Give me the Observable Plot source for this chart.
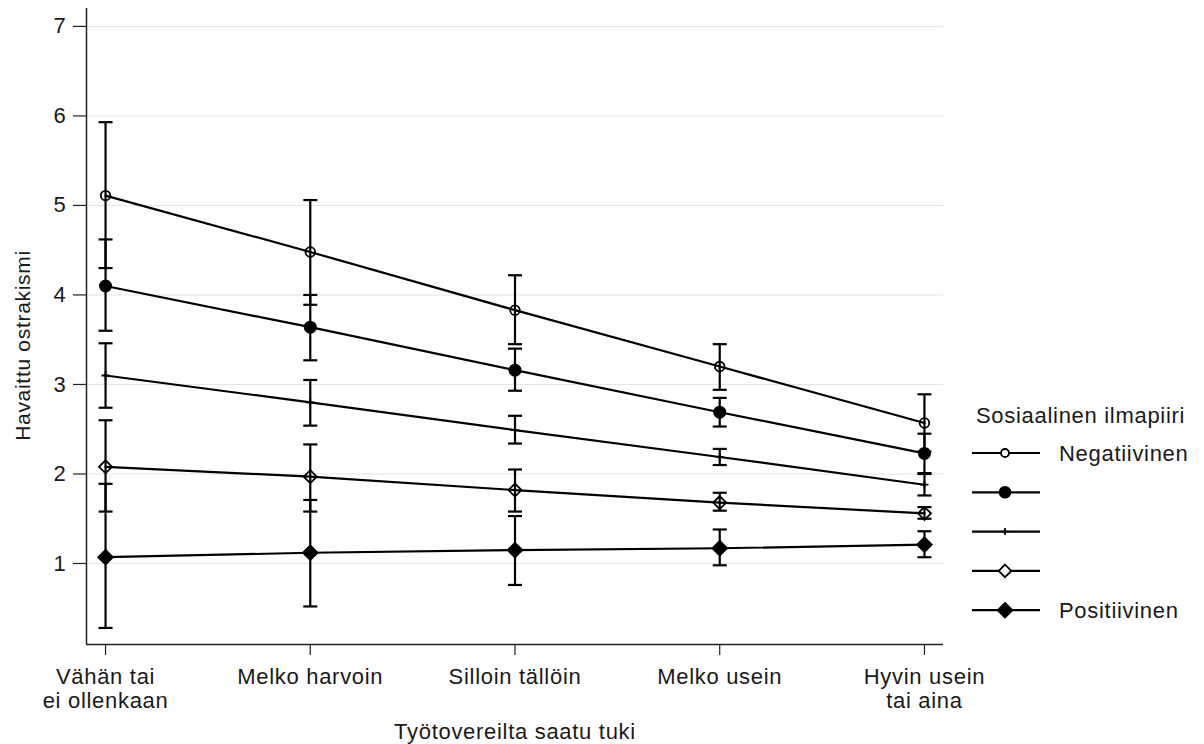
<!DOCTYPE html>
<html><head><meta charset="utf-8">
<script src="https://cdn.jsdelivr.net/npm/d3@7"></script>
<script src="https://cdn.jsdelivr.net/npm/@observablehq/plot@0.6"></script>
<style>
body{margin:0;background:#fff;}
#wrap{position:relative;width:1204px;height:744px;font-family:"Liberation Sans",Arial,sans-serif;color:#1a1a1a;}
#wrap svg text{letter-spacing:0.7px;}
</style></head><body><div id="wrap"></div>
<script>
// Categories (x axis)
const categories = ["Vähän tai\nei ollenkaan", "Melko harvoin", "Silloin tällöin", "Melko usein", "Hyvin usein\ntai aina"];
// Series (Sosiaalinen ilmapiiri), from negative to positive
const seriesNames = ["Negatiivinen", "2", "3", "4", "Positiivinen"];
const legendLabels = ["Negatiivinen", "", "", "", "Positiivinen"];
// Predicted means
const mean1 = [5.11, 4.48, 3.83, 3.20, 2.57];
const mean2 = [4.10, 3.64, 3.16, 2.69, 2.23];
const mean3 = [3.10, 2.80, 2.49, 2.19, 1.88];
const mean4 = [2.08, 1.97, 1.82, 1.68, 1.56];
const mean5 = [1.07, 1.12, 1.15, 1.17, 1.21];
// Confidence interval lower bounds
const low1 = [4.30, 3.89, 3.45, 2.94, 2.25];
const low2 = [3.60, 3.27, 2.93, 2.53, 2.01];
const low3 = [2.74, 2.54, 2.34, 2.10, 1.76];
const low4 = [1.58, 1.58, 1.58, 1.59, 1.50];
const low5 = [0.28, 0.52, 0.76, 0.98, 1.07];
// Confidence interval upper bounds
const high1 = [5.93, 5.06, 4.22, 3.45, 2.89];
const high2 = [4.62, 4.00, 3.40, 2.85, 2.45];
const high3 = [3.46, 3.05, 2.65, 2.28, 2.00];
const high4 = [2.60, 2.33, 2.05, 1.79, 1.63];
const high5 = [1.89, 1.71, 1.53, 1.38, 1.36];
const yTicks = [1, 2, 3, 4, 5, 6, 7];
const xTicks = [1, 2, 3, 4, 5];

const means = [mean1, mean2, mean3, mean4, mean5];
const lows = [low1, low2, low3, low4, low5];
const highs = [high1, high2, high3, high4, high5];

const rows = [];
seriesNames.forEach((s, i) => {
  categories.forEach((c, j) => {
    rows.push({series: s, si: i, x: j + 1, y: means[i][j], lo: lows[i][j], hi: highs[i][j]});
  });
});

const diamond = {draw(ctx, size) { const r = Math.sqrt(size / Math.PI); ctx.moveTo(0, -r); ctx.lineTo(r, 0); ctx.lineTo(0, r); ctx.lineTo(-r, 0); ctx.closePath(); }};
const cap = {draw(ctx, size) { ctx.moveTo(-7, 0); ctx.lineTo(7, 0); }};
const plusSym = {draw(ctx, size) { const r = Math.sqrt(size / Math.PI); ctx.moveTo(-r, 0); ctx.lineTo(r, 0); ctx.moveTo(0, -r); ctx.lineTo(0, r); }};
const markerStyles = [
  {symbol: "circle", fill: "none", r: 4.8},
  {symbol: "circle", fill: "black", r: 5.6},
  {symbol: plusSym, fill: "none", r: 4},
  {symbol: diamond, fill: "none", r: 6.5},
  {symbol: diamond, fill: "black", r: 7.3}
];

const xDomain = [0.907, 5.093];
const yDomain = [0.095, 7.2];

const markerMarks = markerStyles.map((st, i) =>
  Plot.dot(rows.filter(d => d.si === i), {x: "x", y: "y", symbol: st.symbol, r: st.r, fill: st.fill, stroke: "black", strokeWidth: 1.8})
);

const chart = Plot.plot({
  width: 1204,
  height: 744,
  marginLeft: 86,
  marginRight: 261,
  marginTop: 8,
  marginBottom: 100,
  style: {fontFamily: "'Liberation Sans', Arial, sans-serif", fontSize: "22px", color: "#1a1a1a", background: "white"},
  x: {type: "linear", domain: xDomain},
  y: {domain: yDomain},
  marks: [
    Plot.gridY(yTicks, {stroke: "#e4e4e4", strokeOpacity: 1, strokeWidth: 1}),
    Plot.axisY(yTicks, {tickSize: 13, tickPadding: 7, fontSize: 22, tickFormat: d3.format("d"), label: null, stroke: "#222", strokeWidth: 1.2}),
    Plot.axisX(xTicks, {tickSize: 11, tickPadding: 11, fontSize: 22, lineHeight: 1.1, tickFormat: d => categories[d - 1], label: null, stroke: "#222", strokeWidth: 1.2}),
    Plot.ruleX([xDomain[0]], {stroke: "#222", strokeWidth: 1.5}),
    Plot.ruleY([yDomain[0]], {stroke: "#222", strokeWidth: 1.5}),
    Plot.line(rows, {x: "x", y: "y", z: "series", stroke: "black", strokeWidth: 2.2}),
    Plot.ruleX(rows, {x: "x", y1: "lo", y2: "hi", stroke: "black", strokeWidth: 2.2}),
    Plot.dot(rows, {x: "x", y: "lo", symbol: cap, stroke: "black", strokeWidth: 2.2, fill: "none"}),
    Plot.dot(rows, {x: "x", y: "hi", symbol: cap, stroke: "black", strokeWidth: 2.2, fill: "none"}),
    ...markerMarks,
    Plot.text(["Havaittu ostrakismi"], {frameAnchor: "left", textAnchor: "middle", lineAnchor: "middle", dx: -63, dy: 19, rotate: -90, fontSize: 21, fill: "#1a1a1a"}),
    Plot.text(["Työtovereilta saatu tuki"], {frameAnchor: "bottom", textAnchor: "middle", lineAnchor: "middle", dy: 87, fontSize: 22, fill: "#1a1a1a"})
  ]
});
const wrap = document.getElementById("wrap");
wrap.appendChild(chart);

// Legend
const lg = d3.select(wrap).append("svg")
  .attr("width", 244).attr("height", 240)
  .style("position", "absolute").style("left", "960px").style("top", "390px")
  .style("font-family", "'Liberation Sans', Arial, sans-serif").style("font-size", "22px");
lg.append("text").attr("x", 16).attr("y", 33).attr("fill", "#1a1a1a").text("Sosiaalinen ilmapiiri");
const legendSyms = [
  {type: d3.symbolCircle, fill: "none", r: 4},
  {type: d3.symbolCircle, fill: "black", r: 5.4},
  {type: plusSym, fill: "none", r: 3.5},
  {type: diamond, fill: "none", r: 6.3},
  {type: diamond, fill: "black", r: 7.3}
];
seriesNames.forEach((s, i) => {
  const g = lg.append("g").attr("transform", `translate(0,${63 + i * 39.3})`);
  g.append("line").attr("x1", 12).attr("x2", 80).attr("stroke", "black").attr("stroke-width", 2.2);
  g.append("path").attr("transform", "translate(45,0)")
    .attr("d", d3.symbol(legendSyms[i].type, Math.PI * legendSyms[i].r ** 2)())
    .attr("fill", legendSyms[i].fill === "none" ? "white" : "black").attr("stroke", "black").attr("stroke-width", 1.8);
  if (legendLabels[i]) g.append("text").attr("x", 99).attr("dy", "0.35em").attr("fill", "#1a1a1a").text(legendLabels[i]);
});
</script></body></html>
